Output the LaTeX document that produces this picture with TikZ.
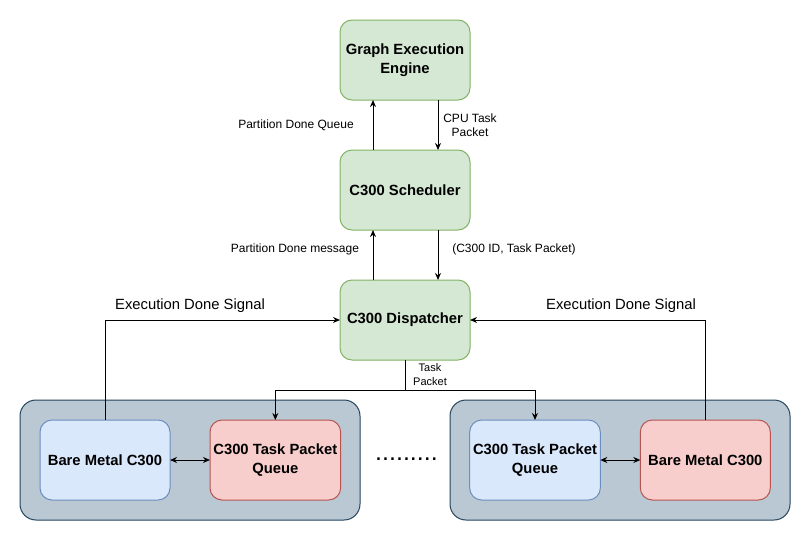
\documentclass[tikz,border=0pt]{standalone}
\usepackage{fontspec}
\setmainfont{Liberation Sans}
\usepackage{xcolor}
\usetikzlibrary{arrows.meta,
                positioning}
\definecolor{greenfill}{HTML}{D5E8D4}
\definecolor{greenline}{HTML}{82B366}
\definecolor{bluefill}{HTML}{DAE8FC}
\definecolor{blueline}{HTML}{6C8EBF}
\definecolor{redfill}{HTML}{F8CECC}
\definecolor{redline}{HTML}{B85450}
\definecolor{groupfill}{HTML}{BAC8D3}
\definecolor{groupline}{HTML}{23445D}
\newcommand{\boxfont}{\fontsize{14.8}{19}\selectfont\bfseries}
\newcommand{\labelfont}{\fontsize{12}{14}\selectfont}
\tikzstyle{unit} = [rectangle, rounded corners=12pt, minimum width=130pt, minimum height=80pt,
                    outer sep=0pt, line width=1pt, align=center, font=\boxfont]
\tikzstyle{greenbox} = [unit, draw=greenline, fill=greenfill]
\tikzstyle{bluebox} = [unit, draw=blueline, fill=bluefill]
\tikzstyle{redbox} = [unit, draw=redline, fill=redfill]
\tikzstyle{group} = [rectangle, rounded corners=16pt, minimum width=340pt, minimum height=120pt,
                     outer sep=0pt, line width=1pt, draw=groupline, fill=groupfill]
\tikzstyle{arrow} = [line width=1pt,-{Stealth[length=7pt,width=6pt]}]
\tikzstyle{biarrow} = [line width=1pt,{Stealth[length=7pt,width=6pt]}-{Stealth[length=7pt,width=6pt]}]
\tikzstyle{lbl} = [align=center, inner sep=0pt, font=\labelfont]

\begin{document}
\begin{tikzpicture}[x=1pt,y=-1pt]
    \useasboundingbox[fill=white] (0,0) rectangle (811,549);

    \node[greenbox] (gee) at (405,60) {Graph Execution\\Engine};
    \node[greenbox] (sched)[below=50pt of gee] {C300 Scheduler};
    \node[greenbox] (disp)[below=50pt of sched] {C300 Dispatcher};

    \node[group] (lgroup) at (190,460) {};
    \node[group] (rgroup) at (620,460) {};

    \node[bluebox] (lbare) at (105,460) {Bare Metal C300};
    \node[redbox] (lqueue)[right=40pt of lbare] {C300 Task Packet\\Queue};
    \node[bluebox] (rqueue) at (535,460) {C300 Task Packet\\Queue};
    \node[redbox] (rbare)[right=40pt of rqueue] {Bare Metal C300};

    \node[anchor=base west, inner sep=0pt, font=\fontsize{25}{25}\selectfont] (dots) at (375,460) {.........};

    % scheduler <-> graph engine
    \draw [arrow] ([xshift=-32pt]sched.north) -- ([xshift=-32pt]gee.south);
    \draw [arrow] ([xshift=33pt]gee.south) -- ([xshift=33pt]sched.north);
    \node[lbl] (pdq) at (296,125) {Partition Done Queue};
    \node[lbl] (cpu) at (470,125) {CPU Task\\Packet};

    % dispatcher <-> scheduler
    \draw [arrow] ([xshift=-32pt]disp.north) -- ([xshift=-32pt]sched.south);
    \draw [arrow] ([xshift=33pt]sched.south) -- ([xshift=33pt]disp.north);
    \node[lbl] (pdm) at (295,249) {Partition Done message};
    \node[lbl] (idp) at (514,249) {(C300 ID, Task Packet)};

    % task packets down to the queues
    \coordinate[below=30pt of disp] (split);
    \draw [line width=1pt] (disp) -- (split);
    \draw [arrow] (split) -| (lqueue);
    \draw [arrow] (split) -| (rqueue);
    \node[lbl, font=\fontsize{11}{14}\selectfont] (tp) at (430,375) {Task\\Packet};

    % execution done signals
    \draw [arrow] (lbare.north) |- (disp.west);
    \draw [arrow] (rbare.north) |- (disp.east);
    \node[lbl, font=\fontsize{14.8}{16}\selectfont] (eds1) at (190,306) {Execution Done Signal};
    \node[lbl, font=\fontsize{14.8}{16}\selectfont] (eds2) at (621,306) {Execution Done Signal};

    \draw [biarrow] (lbare) -- (lqueue);
    \draw [biarrow] (rqueue) -- (rbare);
\end{tikzpicture}
\end{document}
